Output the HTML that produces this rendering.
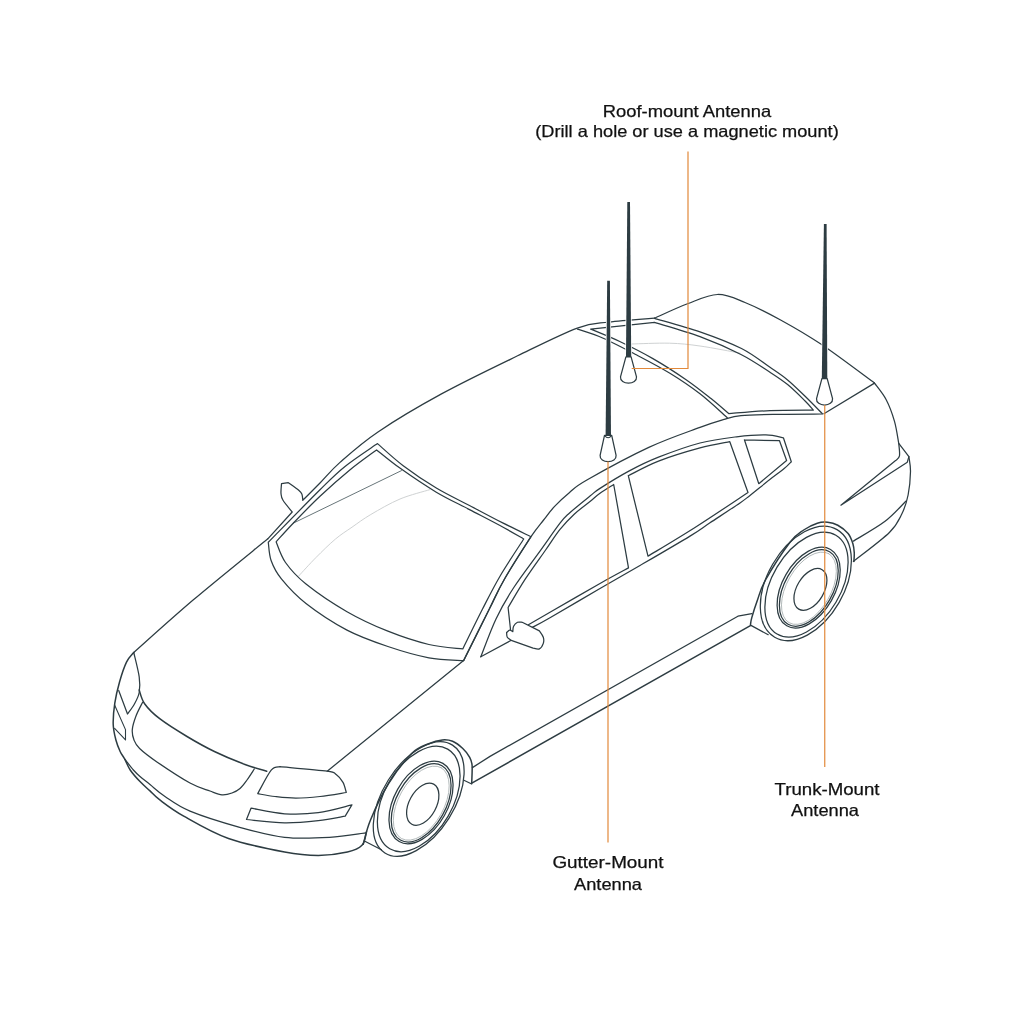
<!DOCTYPE html>
<html><head><meta charset="utf-8">
<style>
html,body{margin:0;padding:0;background:#fff;width:1025px;height:1024px;overflow:hidden;}
svg{position:absolute;left:0;top:0;}
.t{position:absolute;font-family:"Liberation Sans",sans-serif;font-size:16.5px;color:#111;text-align:center;white-space:nowrap;line-height:20px;width:400px;height:20px;transform-origin:50% 50%;will-change:transform;-webkit-text-stroke:0.25px #111;}
</style></head><body>
<svg width="1025" height="1024" viewBox="0 0 1025 1024">
<g fill="none" stroke="#2d3c42" stroke-width="1.25" stroke-linejoin="round" stroke-linecap="round">
<path d="M293.20,523.20 L401.50,470.60" stroke="#56656a" stroke-width="0.9"/>
<path d="M298.80,575.90 C301.67,572.83 309.88,563.65 316.00,557.50 C322.12,551.35 329.50,544.05 335.50,539.00 C341.50,533.95 346.12,531.28 352.00,527.20 C357.88,523.12 362.80,519.20 370.80,514.50 C378.80,509.80 390.18,503.13 400.00,499.00 C409.82,494.87 424.75,491.25 429.70,489.70" stroke="#cfd2d3" stroke-width="1"/>
<path d="M631.40,344.00 C637.75,343.87 658.07,342.87 669.50,343.20 C680.93,343.53 688.25,344.35 700.00,346.00 C711.75,347.65 733.33,351.92 740.00,353.10" stroke="#cfd2d3" stroke-width="1"/>
<path d="M133.75,652.50 C143.69,643.72 171.06,618.75 193.40,599.80 C215.74,580.85 255.40,548.97 267.80,538.80" />
<path d="M267.80,538.80 L292.20,512.00 C290.67,510.05 284.87,503.40 283.00,500.30 C281.13,497.20 281.25,496.17 281.00,493.40 C280.75,490.63 281.42,485.32 281.50,483.70 L288.30,482.70 C290.08,484.00 296.72,488.55 299.00,490.50 C301.28,492.45 301.37,492.77 302.00,494.40 C302.63,496.03 302.67,499.32 302.80,500.30 C305.67,497.42 313.80,489.32 320.00,483.00 C326.20,476.68 330.33,470.92 340.00,462.40 C349.67,453.88 361.08,443.32 378.00,431.90 C394.92,420.48 418.23,406.58 441.50,393.90 C464.77,381.22 494.97,366.77 517.60,355.80 C540.23,344.83 562.08,333.73 577.30,328.10 C592.52,322.47 596.02,323.67 608.90,322.00 C621.78,320.33 646.98,318.75 654.60,318.10" />
<path d="M268.30,542.30 C276.92,533.55 307.22,502.43 320.00,489.80 C332.78,477.17 335.42,474.20 345.00,466.50 C354.58,458.80 372.08,447.42 377.50,443.60 C381.78,447.28 393.40,458.30 403.20,465.70 C413.00,473.10 425.25,481.37 436.30,488.00 C447.35,494.63 458.43,499.68 469.50,505.50 C480.57,511.32 492.45,517.70 502.70,522.90 C512.95,528.10 526.28,534.40 531.00,536.70 C526.57,543.78 511.37,567.10 504.40,579.20 C497.43,591.30 496.00,595.73 489.20,609.30 C482.40,622.87 467.87,652.05 463.60,660.60 C457.82,660.13 441.52,660.15 428.90,657.80 C416.28,655.45 401.55,651.12 387.90,646.50 C374.25,641.88 360.65,637.27 347.00,630.10 C333.35,622.93 316.93,612.03 306.00,603.50 C295.07,594.97 287.22,586.07 281.40,578.90 C275.58,571.73 273.28,566.60 271.10,560.50 C268.92,554.40 268.77,545.33 268.30,542.30 Z" />
<path d="M276.10,541.80 C278.95,538.70 285.88,530.78 293.20,523.20 C300.52,515.62 310.57,505.17 320.00,496.30 C329.43,487.43 340.37,477.73 349.80,470.00 C359.23,462.27 372.13,453.25 376.60,449.90 C380.48,452.93 389.95,461.05 399.90,468.10 C409.85,475.15 424.70,485.28 436.30,492.20 C447.90,499.12 458.43,503.80 469.50,509.60 C480.57,515.40 493.67,522.10 502.70,527.00 C511.73,531.90 520.20,537.00 523.70,539.00 C519.75,545.20 506.88,564.48 500.00,576.20 C493.12,587.92 488.60,597.18 482.40,609.30 C476.20,621.42 466.07,642.30 462.80,648.90 C457.15,648.17 441.38,647.45 428.90,644.50 C416.42,641.55 401.55,636.67 387.90,631.20 C374.25,625.73 360.65,619.57 347.00,611.70 C333.35,603.83 316.25,592.20 306.00,584.00 C295.75,575.80 290.48,569.53 285.50,562.50 C280.52,555.47 277.67,545.25 276.10,541.80 Z" />
<path d="M327.20,771.20 L463.60,660.60" />
<path d="M463.60,660.60 C467.87,652.05 482.40,622.87 489.20,609.30 C496.00,595.73 497.43,591.30 504.40,579.20 C511.37,567.10 524.47,546.57 531.00,536.70 C537.53,526.83 539.67,525.05 543.60,520.00 C547.53,514.95 550.32,510.95 554.60,506.40 C558.88,501.85 563.92,497.10 569.30,492.70 C574.68,488.30 573.65,487.55 586.90,480.00 C600.15,472.45 629.95,456.17 648.80,447.40 C667.65,438.63 687.60,432.02 700.00,427.40 C712.40,422.78 716.37,421.67 723.20,419.70 C730.03,417.73 731.53,416.50 741.00,415.60 C750.47,414.70 766.45,414.57 780.00,414.30 C793.55,414.03 815.25,414.05 822.30,414.00" />
<path d="M480.80,656.80 C483.33,650.48 490.50,630.45 496.00,618.90 C501.50,607.35 506.47,598.80 513.80,587.50 C521.13,576.20 532.30,561.82 540.00,551.10 C547.70,540.38 555.12,529.52 560.00,523.20 C564.88,516.88 564.30,517.72 569.30,513.20 C574.30,508.68 584.88,500.23 590.00,496.10 C595.12,491.97 593.45,492.60 600.00,488.40 C606.55,484.20 619.55,476.10 629.30,470.90 C639.05,465.70 646.72,461.85 658.50,457.20 C670.28,452.55 686.98,446.40 700.00,443.00 C713.02,439.60 725.62,438.15 736.60,436.80 C747.58,435.45 758.10,434.73 765.90,434.90 C773.70,435.07 780.48,437.32 783.40,437.80 L791.30,461.70 C790.12,462.85 787.83,465.58 784.20,468.60 C780.57,471.62 775.20,475.33 769.50,479.80 C763.80,484.27 754.92,491.55 750.00,495.40 C745.08,499.25 746.67,498.33 740.00,502.90 C733.33,507.47 718.33,517.27 710.00,522.80 C701.67,528.33 701.67,528.98 690.00,536.10 C678.33,543.22 655.00,556.77 640.00,565.50 C625.00,574.23 615.00,579.80 600.00,588.50 C585.00,597.20 561.40,611.15 550.00,617.70 C538.60,624.25 534.67,626.12 531.60,627.80" />
<path d="M480.80,656.80 L511.25,640.30" />
<path d="M510.50,629.40 L508.10,607.50 C510.95,602.78 518.95,588.78 525.20,579.20 C531.45,569.62 539.80,558.30 545.60,550.00 C551.40,541.70 555.23,535.37 560.00,529.40 C564.77,523.43 569.20,518.85 574.20,514.20 C579.20,509.55 585.70,504.98 590.00,501.50 C594.30,498.02 596.05,496.13 600.00,493.30 C603.95,490.47 611.42,485.97 613.70,484.50 L628.50,567.90 C623.75,570.50 613.08,576.12 600.00,583.50 C586.92,590.88 561.93,605.33 550.00,612.20 C538.07,619.07 532.00,622.62 528.40,624.70" />
<path d="M628.30,475.70 C633.33,473.27 646.55,465.73 658.50,461.10 C670.45,456.47 688.12,451.13 700.00,447.90 C711.88,444.67 724.83,442.73 729.80,441.70 L748.00,492.50 C739.17,498.33 711.67,516.88 695.00,527.50 C678.33,538.12 655.83,551.42 648.00,556.20 L628.30,475.70" />
<path d="M744.40,439.80 L779.50,440.70 L786.60,460.50 L758.80,483.70 L744.40,439.80" />
<path d="M506.60,632.50 C506.72,633.28 506.53,635.90 507.30,637.20 C508.07,638.50 510.59,639.78 511.25,640.30 L533.10,648.10 C534.15,648.23 537.70,649.68 539.40,648.90 C541.10,648.12 542.65,645.35 543.30,643.40 C543.95,641.45 543.95,639.28 543.30,637.20 C542.65,635.12 540.05,631.95 539.40,630.90 L522.20,622.30 C521.42,622.30 518.93,621.64 517.50,622.30 C516.07,622.96 514.38,624.68 513.60,626.25 C512.82,627.82 512.93,630.79 512.80,631.70 C512.28,631.45 510.73,630.07 509.70,630.20 C508.67,630.33 507.12,632.12 506.60,632.50" fill="#fff"/>
<path d="M133.75,652.50 C132.54,654.12 128.86,657.32 126.50,662.20 C124.14,667.08 121.55,674.97 119.60,681.80 C117.65,688.63 115.87,696.13 114.80,703.20 C113.73,710.27 113.02,718.07 113.20,724.20 C113.38,730.33 114.73,735.42 115.90,740.00 C117.08,744.58 118.79,748.53 120.25,751.70 C121.71,754.87 122.99,755.95 124.65,759.00 C126.31,762.05 127.64,766.23 130.20,770.00 C132.76,773.77 136.70,778.12 140.00,781.60 C143.30,785.08 146.75,787.88 150.00,790.90 C153.25,793.92 153.88,795.50 159.50,799.70 C165.12,803.90 172.20,809.63 183.70,816.10 C195.20,822.57 211.68,832.52 228.50,838.50 C245.32,844.48 269.63,849.18 284.60,852.00 C299.57,854.82 307.83,855.40 318.30,855.40 C328.77,855.40 340.12,853.68 347.40,852.00 C354.68,850.32 358.82,848.67 362.00,845.30 C365.18,841.93 365.75,834.05 366.50,831.80" stroke-width="1.5"/>
<path d="M124.65,759.00 C126.11,760.83 130.84,767.08 133.40,770.00 C135.96,772.92 137.23,774.08 140.00,776.50 C142.77,778.92 145.83,781.17 150.00,784.50 C154.17,787.83 158.33,792.07 165.00,796.50 C171.67,800.93 177.55,805.97 190.00,811.10 C202.45,816.23 223.93,822.92 239.70,827.30 C255.47,831.68 269.63,835.72 284.60,837.40 C299.57,839.08 316.03,838.15 329.50,837.40 C342.97,836.65 359.42,833.65 365.40,832.90" />
<path d="M133.75,652.50 C134.66,656.57 138.29,670.23 139.20,676.90 C140.11,683.57 140.02,687.95 139.20,692.50 C138.38,697.05 136.25,700.62 134.30,704.20 C132.35,707.78 128.63,712.37 127.50,714.00 L118.70,690.50" />
<path d="M114.60,705.00 L125.50,729.60 L125.50,739.90 L114.60,728.30" stroke-width="1.1"/>
<path d="M139.20,690.00 C140.10,692.28 141.18,698.92 144.60,703.70 C148.02,708.48 152.63,713.23 159.70,718.70 C166.77,724.17 177.88,731.03 187.00,736.50 C196.12,741.97 204.73,746.83 214.40,751.50 C224.07,756.17 236.28,761.22 245.00,764.50 C253.72,767.78 263.08,770.08 266.70,771.20" stroke-width="1.5"/>
<path d="M142.60,702.30 C141.50,704.58 137.72,711.45 136.00,716.00 C134.28,720.55 132.63,725.60 132.30,729.60 C131.97,733.60 132.78,736.85 134.00,740.00 C135.22,743.15 135.78,744.85 139.60,748.50 C143.42,752.15 148.50,756.15 156.90,761.90 C165.30,767.65 181.15,778.15 190.00,783.00 C198.85,787.85 204.67,789.03 210.00,791.00 C215.33,792.97 218.33,794.47 222.00,794.80 C225.67,795.13 229.00,794.05 232.00,793.00 C235.00,791.95 237.50,790.67 240.00,788.50 C242.50,786.33 244.62,783.25 247.00,780.00 C249.38,776.75 253.08,770.83 254.30,769.00" />
<path d="M257.70,793.70 C259.95,789.77 267.47,774.60 271.20,770.10 C274.93,765.60 278.62,767.27 280.10,766.70 C287.95,767.45 317.85,769.88 327.20,771.20 C336.55,772.52 333.57,772.73 336.20,774.60 C338.83,776.47 341.32,779.42 343.00,782.40 C344.68,785.38 345.75,790.82 346.30,792.50 C341.92,793.17 328.42,795.57 320.00,796.50 C311.58,797.43 303.30,798.10 295.80,798.10 C288.30,798.10 281.35,797.23 275.00,796.50 C268.65,795.77 260.58,794.17 257.70,793.70 Z" />
<path d="M251.00,808.20 L246.50,819.50 C252.85,820.05 272.63,822.62 284.60,822.80 C296.57,822.98 308.20,821.72 318.30,820.60 C328.40,819.48 340.72,816.85 345.20,816.10 L351.90,804.90 C346.30,806.20 329.52,811.22 318.30,812.70 C307.08,814.18 295.82,814.55 284.60,813.80 C273.38,813.05 256.60,809.13 251.00,808.20 Z" />
<path d="M363.25,844.20 C364.46,840.17 366.31,830.08 370.50,820.00 C374.69,809.92 381.50,794.87 388.40,783.75 C395.30,772.63 405.18,759.97 411.90,753.30 C418.62,746.62 423.63,745.93 428.70,743.70 C433.77,741.47 438.32,740.30 442.30,739.90 C446.28,739.50 449.18,739.87 452.60,741.30 C456.02,742.73 459.95,745.83 462.80,748.50 C465.65,751.17 468.15,754.47 469.70,757.30 C471.25,760.13 471.77,761.17 472.10,765.50 C472.43,769.83 471.77,780.33 471.70,783.30" stroke-width="1.5"/>
<path d="M364.40,841.00 L381.40,849.80" />
<path d="M463.90,780.20 L471.70,784.00" />
<path d="M472.40,767.60 L490.00,756.40 L737.90,616.20 L751.90,613.70" />
<path d="M471.80,783.20 L750.40,625.60" stroke-width="1.5"/>
<path d="M750.50,624.40 C750.72,623.27 750.67,621.58 751.80,617.60 C752.93,613.62 755.02,606.77 757.30,600.50 C759.58,594.23 760.05,589.70 765.50,580.00 C770.95,570.30 783.63,550.63 790.00,542.30 C796.37,533.97 799.15,533.18 803.70,530.00 C808.25,526.82 813.32,524.50 817.30,523.20 C821.28,521.90 824.18,521.86 827.60,522.20 C831.02,522.54 834.38,523.37 837.80,525.25 C841.22,527.13 845.58,530.42 848.10,533.50 C850.62,536.58 851.88,540.52 852.90,543.70 C853.92,546.88 854.08,549.63 854.25,552.60 C854.42,555.57 853.96,560.02 853.90,561.50" stroke-width="1.5"/>
<path d="M750.50,625.10 L768.20,634.70" />
<path d="M874.50,383.10 C876.45,385.87 882.87,393.33 886.20,399.70 C889.53,406.07 892.41,414.02 894.50,421.30 C896.59,428.58 898.04,439.72 898.75,443.40 L908.90,456.70 C909.17,459.18 910.63,465.22 910.50,471.60 C910.37,477.98 909.53,487.98 908.10,495.00 C906.67,502.02 905.02,507.50 901.90,513.75 C898.78,520.00 897.48,524.56 889.40,532.50 C881.32,540.44 859.40,556.58 853.40,561.40" />
<path d="M853.40,541.10 C858.62,537.85 875.97,528.24 884.70,521.60 C893.43,514.96 902.28,504.64 905.80,501.25" />
<path d="M898.75,443.40 C898.88,445.48 900.02,453.03 899.50,455.90 C898.98,458.77 896.25,459.82 895.60,460.60 L840.90,505.20 L907.30,462.20 L908.90,456.70" />
<path d="M654.60,318.10 C660.08,315.71 677.02,307.68 687.50,303.75 C697.98,299.82 707.92,294.71 717.50,294.50 C727.08,294.29 734.48,298.25 745.00,302.50 C755.52,306.75 767.83,312.98 780.60,320.00 C793.37,327.02 805.95,334.08 821.60,344.60 C837.25,355.12 865.68,376.68 874.50,383.10" />
<path d="M823.90,413.80 L874.50,383.10" />
<path d="M577.50,329.10 C581.78,330.62 593.40,333.92 603.20,338.20 C613.00,342.48 625.25,349.00 636.30,354.80 C647.35,360.60 658.88,366.50 669.50,373.00 C680.12,379.50 690.37,386.35 700.00,393.80 C709.63,401.25 722.75,413.72 727.30,417.70" />
<path d="M654.60,318.30 C662.17,320.55 685.52,326.77 700.00,331.80 C714.48,336.83 729.83,342.58 741.50,348.50 C753.17,354.42 762.32,362.07 770.00,367.30 C777.68,372.53 781.75,375.07 787.60,379.90 C793.45,384.73 799.32,390.68 805.10,396.30 C810.88,401.92 819.43,410.72 822.30,413.60" />
<path d="M590.70,329.10 L654.60,322.40 C662.17,324.77 685.60,331.25 700.00,336.60 C714.40,341.95 729.33,348.55 741.00,354.50 C752.67,360.45 762.23,367.28 770.00,372.30 C777.77,377.32 781.75,379.82 787.60,384.60 C793.45,389.38 800.80,396.75 805.10,401.00 C809.40,405.25 812.02,408.58 813.40,410.10 C806.17,410.18 784.12,410.02 770.00,410.60 C755.88,411.18 735.58,413.10 728.70,413.60 C725.75,411.10 718.10,404.25 711.00,398.60 C703.90,392.95 695.78,386.37 686.10,379.70 C676.42,373.03 663.96,364.97 652.90,358.60 C641.84,352.23 630.12,346.42 619.75,341.50 C609.38,336.58 595.54,331.17 590.70,329.10 Z" />
<ellipse cx="418.69" cy="799.03" rx="63.61" ry="35.82" transform="rotate(-57.9 418.69 799.03)" />
<ellipse cx="418.72" cy="798.96" rx="57.63" ry="34.11" transform="rotate(-59.8 418.72 798.96)" />
<ellipse cx="421.01" cy="802.46" rx="44.78" ry="26.81" transform="rotate(-60.75 421.01 802.46)" />
<ellipse cx="421.15" cy="802.9" rx="42.6" ry="24.6" transform="rotate(-60.75 421.15 802.9)" />
<ellipse cx="421.3" cy="803.1" rx="40.6" ry="22.6" transform="rotate(-60.75 421.3 803.1)" stroke="#a9b0b2" stroke-width="0.8"/>
<ellipse cx="422.74" cy="804.21" rx="22.84" ry="13.55" transform="rotate(-61.38 422.74 804.21)" />
<ellipse cx="805.85" cy="583.43" rx="62.19" ry="38.36" transform="rotate(-59.93 805.85 583.43)" />
<ellipse cx="806.49" cy="584.67" rx="57.44" ry="34.3" transform="rotate(-59.2 806.49 584.67)" />
<ellipse cx="808.66" cy="587.63" rx="44.02" ry="26.2" transform="rotate(-60.18 808.66 587.63)" />
<ellipse cx="808.8" cy="588.0" rx="41.8" ry="24.0" transform="rotate(-60.18 808.8 588.0)" />
<ellipse cx="808.95" cy="588.2" rx="39.8" ry="22.0" transform="rotate(-60.18 808.95 588.2)" stroke="#a9b0b2" stroke-width="0.8"/>
<ellipse cx="810.43" cy="589.42" rx="22.92" ry="13.53" transform="rotate(-59.33 810.43 589.42)" />
</g>
<g fill="#2d3c42" stroke="#fff" stroke-width="1.6" paint-order="stroke">
<path d="M627.3,202 L630,202 L631.2,357 L626,357 Z"/>
<path d="M607.2,280.7 L609.9,280.7 L611,436 L605.6,436 Z"/>
<path d="M823.9,224 L826.6,224 L827.3,379 L821.8,379 Z"/>
</g>
<g fill="#fff" stroke="#2d3c42" stroke-width="1.25" stroke-linejoin="round">
<path d="M625.90,356.90 L631.10,356.90 L636.50,376.90 C636.90,380.90 632.90,383.20 628.50,383.20 C624.10,383.20 620.10,380.90 620.50,376.90 Z"/>
<path d="M604.50,435.30 L611.70,435.30 L616.10,455.30 C616.50,459.30 612.50,461.60 608.10,461.60 C603.70,461.60 599.70,459.30 600.10,455.30 Z"/>
<path d="M604.70,435.60 Q608.10,439.80 611.50,435.60" fill="none" stroke-width="1.1"/>
<path d="M821.90,378.70 L827.20,378.70 L832.55,398.70 C832.95,402.70 828.95,405.00 824.55,405.00 C820.15,405.00 816.15,402.70 816.55,398.70 Z"/>
</g>
<g fill="none" stroke="#e2893a" stroke-width="1.2">
<path d="M688,151.5 L688,368.5 L631.7,368.5"/>
<path d="M608,461.5 L608,842.5"/>
<path d="M824.75,405 L824.75,767"/>
</g>
</svg>
<div class="t" style="left:487.00px;top:101.20px;transform:scaleX(1.113);">Roof-mount Antenna</div>
<div class="t" style="left:487.15px;top:121.10px;transform:scaleX(1.103);">(Drill a hole or use a magnetic mount)</div>
<div class="t" style="left:627.15px;top:779.30px;transform:scaleX(1.13);">Trunk-Mount</div>
<div class="t" style="left:624.50px;top:800.40px;transform:scaleX(1.105);">Antenna</div>
<div class="t" style="left:408.15px;top:852.40px;transform:scaleX(1.143);">Gutter-Mount</div>
<div class="t" style="left:408.15px;top:873.50px;transform:scaleX(1.105);">Antenna</div>
</body></html>
